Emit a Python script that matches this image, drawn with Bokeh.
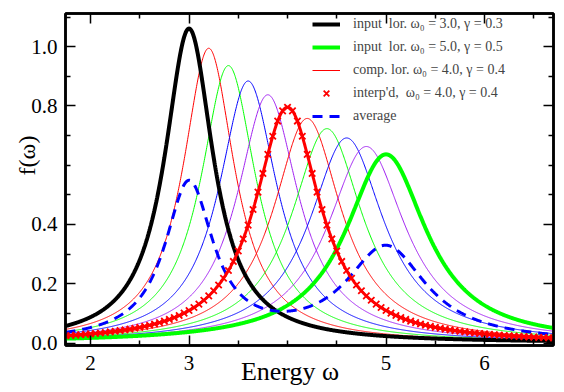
import numpy as np
from bokeh.plotting import figure
from bokeh.models import (Range1d, FixedTicker, LinearAxis, Legend, LegendItem,
                          NumeralTickFormatter)
from bokeh.embed import file_html
from bokeh.resources import INLINE

# Input Lorentzians (omega0, gamma)
input_omega0 = [3.0, 5.0]
input_gamma = [0.3, 0.5]
input_colors = ["black", "#00ff00"]

# Intermediate steps between the two inputs
step_omega0 = [3.2, 3.4, 3.6, 3.8, 4.2, 4.4, 4.6, 4.8]
step_gamma = [0.32, 0.34, 0.36, 0.38, 0.42, 0.44, 0.46, 0.48]
step_colors = ["red", "#00ff00", "blue", "#a020f0", "red", "#00ff00", "blue", "#a020f0"]

# Computed Lorentzian at the midpoint, and its interpolated samples
comp_omega0 = 4.0
comp_gamma = 0.4
interp_omega = [round(1.75 + 0.05 * i, 2) for i in range(100)]

x_ticks = [2, 3, 5, 6]
x_minor = [2.5, 3.5, 4, 4.5, 5.5, 6.5]
y_ticks = [0.0, 0.2, 0.4, 0.8, 1.0]
y_minor = [0.1, 0.3, 0.5, 0.6, 0.7, 0.9, 1.1]

legend_labels = [
    "input\u2002lor. \u03c9\u2080 = 3.0, \u03b3 = 0.3",
    "input\u2002lor. \u03c9\u2080 = 5.0, \u03b3 = 0.5",
    "comp. lor. \u03c9\u2080 = 4.0, \u03b3 = 0.4",
    "interp'd,\u2002\u03c9\u2080 = 4.0, \u03b3 = 0.4",
    "average",
]

# en spaces shift the titles off the frame centre
x_title = "Energy \u03c9" + "\u2002" * 3
y_title = "\u2002" * 4 + "f(\u03c9)"


def lorentzian(w, w0, g):
    w = np.asarray(w, dtype=float)
    return (g / np.pi) / ((w - w0) ** 2 + g ** 2)


X0, X1 = 1.746, 6.70
Y0, Y1 = -0.0084, 1.112
omega = np.linspace(X0, X1, 1200)

p = figure(width=564, height=392, x_range=Range1d(X0, X1), y_range=Range1d(Y0, Y1),
           output_backend="svg", toolbar_location=None,
           min_border_left=65, min_border_right=11, min_border_top=13, min_border_bottom=47)
p.xgrid.visible = False
p.ygrid.visible = False
p.background_fill_color = "white"
p.border_fill_color = "white"
p.outline_line_color = "black"
p.outline_line_width = 2.5

FONT = "Liberation Serif"

# thin family of intermediate Lorentzians
for w0, g, c in zip(step_omega0, step_gamma, step_colors):
    p.line(omega, lorentzian(omega, w0, g), line_color=c, line_width=1)

r_comp = p.line(omega, lorentzian(omega, comp_omega0, comp_gamma), line_color="red", line_width=1)

r_inputs = []
for w0, g, c in zip(input_omega0, input_gamma, input_colors):
    r_inputs.append(p.line(omega, lorentzian(omega, w0, g), line_color=c, line_width=4))

avg = 0.5 * (lorentzian(omega, input_omega0[0], input_gamma[0]) +
             lorentzian(omega, input_omega0[1], input_gamma[1]))
r_avg = p.line(omega, avg, line_color="blue", line_width=3, line_dash="10 7")

p.line(omega, lorentzian(omega, comp_omega0, comp_gamma), line_color="red", line_width=3)
r_interp = p.scatter(interp_omega, lorentzian(interp_omega, comp_omega0, comp_gamma),
                     marker="x", size=9, line_color="red", line_width=1.8)


def style_axis(ax, labels=True):
    ax.axis_line_width = 2.5
    ax.axis_line_color = "black"
    ax.major_tick_in = 10
    ax.major_tick_out = 0
    ax.minor_tick_in = 5
    ax.minor_tick_out = 0
    ax.major_tick_line_width = 1.5
    ax.minor_tick_line_width = 1.5
    ax.major_label_text_font = FONT
    ax.major_label_text_font_size = "21px" if labels else "1px"
    ax.major_label_text_color = "black"
    ax.axis_label_text_font = FONT
    ax.axis_label_text_font_size = "24px"
    ax.axis_label_text_font_style = "normal"
    ax.axis_label_text_color = "black"
    if not labels:
        ax.major_label_text_alpha = 0
        ax.major_label_standoff = 0


xaxis = p.below[0]
yaxis = p.left[0]
xaxis.ticker = FixedTicker(ticks=x_ticks, minor_ticks=x_minor)
yaxis.ticker = FixedTicker(ticks=y_ticks, minor_ticks=y_minor)
yaxis.formatter = NumeralTickFormatter(format="0.0")
style_axis(xaxis)
style_axis(yaxis)
xaxis.major_label_standoff = 10
yaxis.major_label_standoff = 8
xaxis.axis_label = x_title
yaxis.axis_label = y_title
xaxis.axis_label_text_font_size = "26px"
xaxis.axis_label_standoff = -16
yaxis.axis_label_standoff = -12

top = LinearAxis(ticker=FixedTicker(ticks=x_ticks, minor_ticks=x_minor))
right = LinearAxis(ticker=FixedTicker(ticks=y_ticks, minor_ticks=y_minor))
style_axis(top, labels=False)
style_axis(right, labels=False)
p.add_layout(top, "above")
p.add_layout(right, "right")

legend = Legend(items=[
    LegendItem(label=legend_labels[0], renderers=[r_inputs[0]]),
    LegendItem(label=legend_labels[1], renderers=[r_inputs[1]]),
    LegendItem(label=legend_labels[2], renderers=[r_comp]),
    LegendItem(label=legend_labels[3], renderers=[r_interp]),
    LegendItem(label=legend_labels[4], renderers=[r_avg]),
], location=(247, 219))
legend.label_text_font = FONT
legend.label_text_font_size = "14px"
legend.glyph_width = 28
legend.glyph_height = 20
legend.label_height = 20
legend.spacing = 3
legend.padding = 0
legend.margin = 0
legend.label_standoff = 13
legend.border_line_alpha = 0
legend.background_fill_alpha = 0
p.add_layout(legend)

open("out.html", "w").write(file_html(p, INLINE))
